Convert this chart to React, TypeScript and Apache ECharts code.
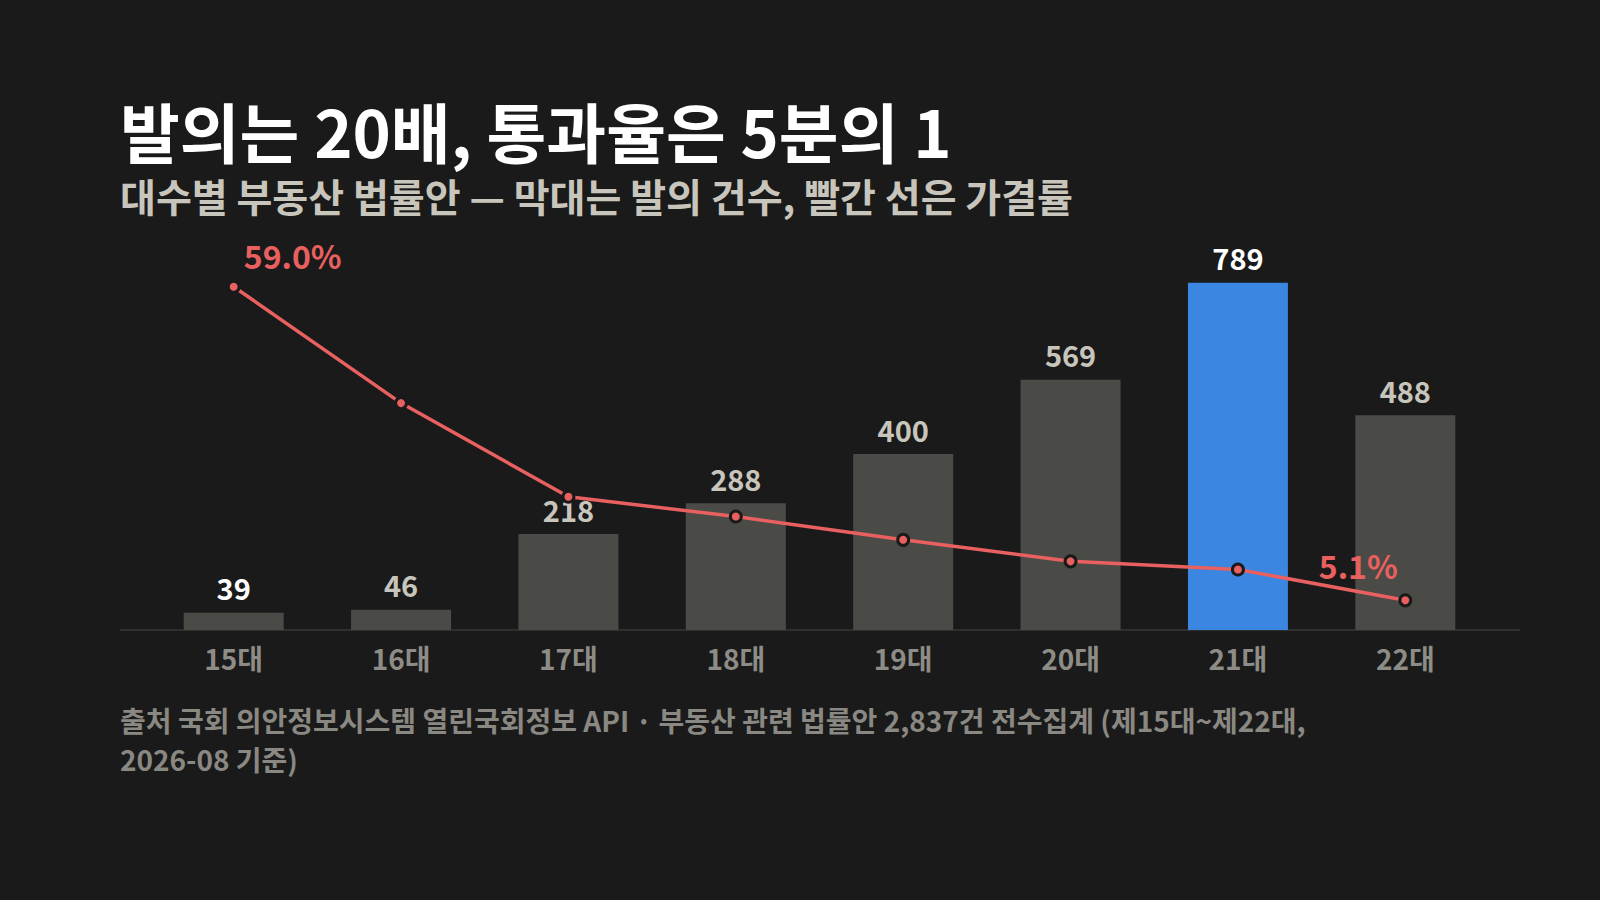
import { useEffect, useRef } from 'react';
import * as echarts from 'echarts';

const categories = ['15대', '16대', '17대', '18대', '19대', '20대', '21대', '22대'];
const billCounts = [39, 46, 218, 288, 400, 569, 789, 488];
const passRates = [59.0, 39.0, 22.9, 19.5, 15.5, 11.8, 10.4, 5.1];
const highlightIndex = 6;
const whiteLabelIndexes = [0, 6];

const FONT = '"Noto Sans CJK KR", "Noto Sans", sans-serif';
const BG = '#1a1a1a';
const RED = '#e8605f';

export default function App() {
    const ref = useRef<HTMLDivElement | null>(null);

    useEffect(() => {
        if (!ref.current) return;
        const chart = echarts.init(ref.current, null, { renderer: 'svg' });

        const barData = billCounts.map((v, i) => ({
            value: v,
            itemStyle: { color: i === highlightIndex ? '#3a86e0' : '#4a4a46' },
            label: { color: whiteLabelIndexes.includes(i) ? '#ffffff' : '#c8c6bc' }
        }));

        // only the first and last rate get a label
        const last = passRates.length - 1;
        const lineData = passRates.map((v, i) => {
            if (i === 0) {
                return { value: v, label: { show: true, offset: [59, -4] } };
            }
            if (i === last) {
                return { value: v, label: { show: true, offset: [-47, -7] } };
            }
            return { value: v };
        });

        chart.setOption({
            animation: false,
            backgroundColor: BG,
            textStyle: { fontFamily: FONT },
            grid: { left: 150, right: 111, top: 278, bottom: 270 },
            xAxis: {
                type: 'category',
                data: categories,
                axisLine: { show: false },
                axisTick: { show: false },
                axisLabel: { color: '#8e8c86', fontSize: 28, fontWeight: 'bold', margin: 14, fontFamily: FONT }
            },
            yAxis: [
                { type: 'value', min: 0, max: 800, show: false, splitLine: { show: false } },
                { type: 'value', min: 0, max: 60.5, show: false, splitLine: { show: false } }
            ],
            graphic: [
                {
                    type: 'line',
                    shape: { x1: 120, y1: 630, x2: 1520, y2: 630 },
                    style: { stroke: '#2f2f2f', lineWidth: 2 },
                    z: 0
                },
                {
                    type: 'text',
                    x: 120,
                    y: 130,
                    style: {
                        text: '발의는 20배, 통과율은 5분의 1',
                        fontSize: 65,
                        lineHeight: 65,
                        fontWeight: 'bold',
                        fill: '#ffffff',
                        fontFamily: FONT,
                        verticalAlign: 'middle'
                    }
                },
                {
                    type: 'text',
                    x: 120,
                    y: 195,
                    style: {
                        text: '대수별 부동산 법률안 — 막대는 발의 건수, 빨간 선은 가결률',
                        fontSize: 39,
                        lineHeight: 39,
                        fontWeight: 'bold',
                        fill: '#c8c6bc',
                        fontFamily: FONT,
                        verticalAlign: 'middle'
                    }
                },
                {
                    type: 'text',
                    x: 120,
                    y: 700,
                    style: {
                        text: '출처 국회 의안정보시스템 열린국회정보 API · 부동산 관련 법률안 2,837건 전수집계 (제15대~제22대,\n2026-08 기준)',
                        fontSize: 28,
                        fontWeight: 'bold',
                        lineHeight: 39,
                        fill: '#8a8882',
                        fontFamily: FONT,
                        verticalAlign: 'top'
                    }
                }
            ],
            series: [
                {
                    type: 'bar',
                    data: barData,
                    barWidth: 100,
                    label: {
                        show: true,
                        position: 'top',
                        distance: 11,
                        fontSize: 29,
                        fontWeight: 'bold',
                        fontFamily: FONT
                    },
                    z: 2
                },
                {
                    type: 'line',
                    yAxisIndex: 1,
                    data: lineData,
                    symbol: 'circle',
                    symbolSize: 11,
                    lineStyle: { color: RED, width: 3.5 },
                    itemStyle: { color: RED, borderColor: BG, borderWidth: 3 },
                    label: {
                        show: false,
                        position: 'top',
                        formatter: (p: any) => p.value.toFixed(1) + '%',
                        color: RED,
                        fontSize: 32,
                        fontWeight: 600,
                        fontFamily: FONT
                    },
                    z: 3
                }
            ]
        });

        return () => chart.dispose();
    }, []);

    return (
        <div style={{ position: 'fixed', left: 0, top: 0, width: 1600, height: 900, background: BG }}>
            <div ref={ref} style={{ width: 1600, height: 900 }} />
        </div>
    );
}
